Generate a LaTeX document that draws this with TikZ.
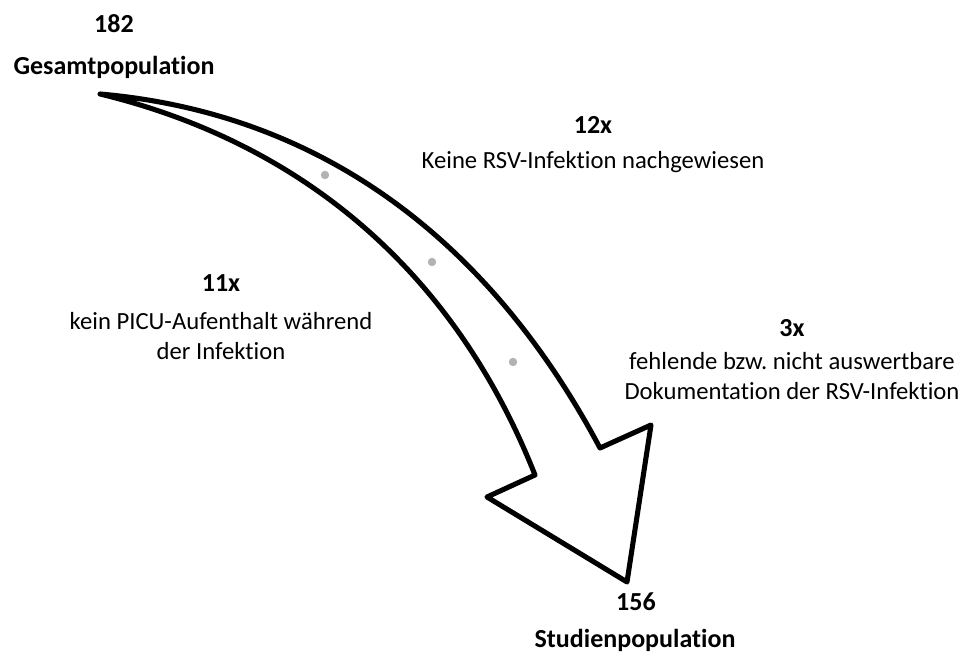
\documentclass[tikz,border=0pt]{standalone}
\usepackage{fontspec}
\setmainfont{Carlito}[Ligatures=CommonOff]
\usepackage{tikz}
\usetikzlibrary{calc}
\frenchspacing

\tikzset{
	zahl/.style={font=\fontsize{19.5}{22.5}\selectfont\bfseries},
	grund/.style={font=\fontsize{18.5}{22.5}\selectfont, align=center},
	punkt/.style={fill=black!30, draw=none},
}

\begin{document}
\begin{tikzpicture}[x=0.75pt, y=-0.75pt]
			
			\useasboundingbox (0,0) rectangle (961,656);
			
			\coordinate (T) at (100,94);
			\coordinate (NR) at (600,448);
			\coordinate (BR) at (651,425);
			\coordinate (S) at (627,582);
			\coordinate (BL) at (487,497);
			\coordinate (NL) at (535,475);
			
			% Pfeil
			\draw[line width=3.8pt, line join=round, fill=white]
				(T) .. controls (340,115) and (500,260) .. (NR) -- (BR) -- (S) -- (BL) -- (NL)
				.. controls (450,260) and (290,140) .. (T) -- cycle;
			
			\fill[punkt] (325,175) circle (4.2);
			\fill[punkt] (432,262) circle (4.2);
			\fill[punkt] (513,362) circle (4.2);
			
			\node[zahl] (n182) at (114,24) {182};
			\node[zahl] (gesamt) at (114,67) {Gesamtpopulation};
			
			\node[zahl] (n12) at (593,125) {12x};
			\node[grund] (rsv) at (593,162) {Keine RSV-Infektion nachgewiesen};
			
			\node[zahl] (n11) at (221,283) {11x};
			\node[grund] (picu) at (221,336) {kein PICU-Aufenthalt während\\der Infektion};
			
			\node[zahl] (n3) at (792,328) {3x};
			\node[grund] (doku) at (792,376) {fehlende bzw. nicht auswertbare\\Dokumentation der RSV-Infektion};
			
			\node[zahl] (n156) at (636,602) {156};
			\node[zahl] (studie) at (635,640) {Studienpopulation};
			
			%\draw[dashed] (gesamt) -- (studie);
			
			\end{tikzpicture}
\end{document}
